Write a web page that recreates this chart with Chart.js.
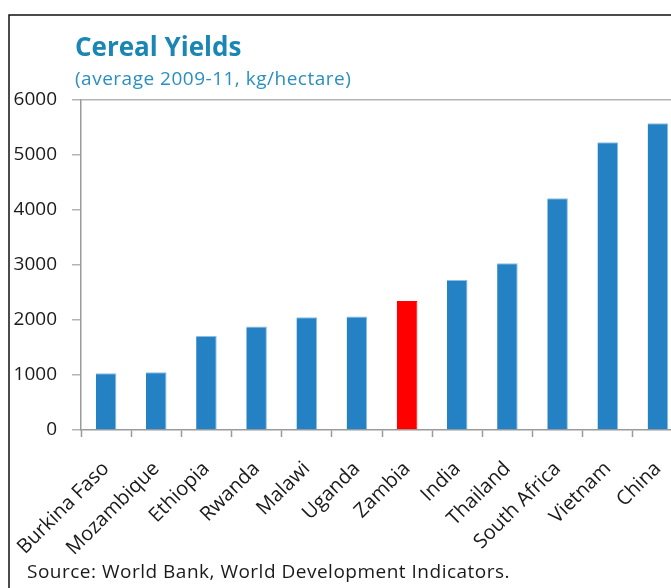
<!DOCTYPE html>
<html>
<head>
<meta charset="utf-8">
<script src="https://cdn.jsdelivr.net/npm/chart.js@4/dist/chart.umd.min.js"></script>
<style>
  html, body { margin: 0; padding: 0; background: #fff; }
  #wrap { position: relative; width: 671px; height: 588px; overflow: hidden; }
  #c { position: absolute; left: 0; top: 0; }
</style>
</head>
<body>
<div id="wrap"><canvas id="c" width="700" height="588"></canvas></div>
<script>
// Cereal yields, average 2009-11, kg per hectare
const countries = ['Burkina Faso', 'Mozambique', 'Ethiopia', 'Rwanda', 'Malawi', 'Uganda',
                   'Zambia', 'India', 'Thailand', 'South Africa', 'Vietnam', 'China'];
const yields = [1030, 1050, 1710, 1880, 2050, 2065, 2345, 2727, 3030, 4212, 5231, 5576];
const highlighted = 'Zambia';
const yTicks = [0, 1000, 2000, 3000, 4000, 5000, 6000];

const titleText = 'Cereal Yields';
const subtitleText = '(average 2009-11, kg/hectare)';
const sourceText = 'Source: World Bank, World Development Indicators.';

const FONT = "'Open Sans', 'Noto Sans', sans-serif";
const BLUE = '#2381c4';
const RED = '#ff0000';

// Frame, heading and source note drawn straight onto the canvas
const decorations = {
  id: 'decorations',
  beforeDraw(chart) {
    const ctx = chart.ctx;
    ctx.save();
    ctx.strokeStyle = '#111';
    ctx.lineWidth = 1.5;
    ctx.beginPath();
    ctx.moveTo(9, 600);
    ctx.lineTo(9, 15);
    ctx.lineTo(720, 15);
    ctx.stroke();
    ctx.restore();
  },
  afterDraw(chart) {
    const ctx = chart.ctx;
    ctx.save();
    ctx.textBaseline = 'alphabetic';
    ctx.textAlign = 'left';
    ctx.fillStyle = '#1a86b3';
    ctx.font = "bold 26px " + FONT;
    ctx.fillText(titleText, 75, 56);
    ctx.fillStyle = '#2a8fc0';
    ctx.font = "19px " + FONT;
    ctx.letterSpacing = '0.5px';
    ctx.fillText(subtitleText, 75, 85);
    ctx.fillStyle = '#1a1a1a';
    ctx.font = "19px " + FONT;
    ctx.fillText(sourceText, 27, 578);
    ctx.restore();
  }
};

new Chart(document.getElementById('c'), {
  type: 'bar',
  data: {
    labels: countries,
    datasets: [{
      data: yields,
      backgroundColor: countries.map(c => c === highlighted ? RED : BLUE),
      borderColor: countries.map(c => c === highlighted ? RED : '#8dbde3'),
      borderWidth: { top: 1, right: 1, left: 0, bottom: 0 },
      barPercentage: 1,
      categoryPercentage: 0.41
    }]
  },
  options: {
    responsive: false,
    animation: false,
    events: [],
    layout: { padding: { top: 100, left: 0, right: 17, bottom: 0 } },
    plugins: { legend: { display: false }, tooltip: { enabled: false } },
    scales: {
      x: {
        afterFit(scale) {
          scale.height = 158;
          scale.paddingLeft = 0;
          scale.paddingRight = 0;
        },
        grid: {
          offset: true,
          drawOnChartArea: false,
          tickLength: 7,
          tickColor: '#9a9a9a',
          tickWidth: 1.5
        },
        border: { color: '#9a9a9a', width: 1.5 },
        ticks: {
          autoSkip: false,
          maxRotation: 45,
          minRotation: 45,
          padding: 20,
          color: '#1a1a1a',
          font: { family: FONT, size: 20 }
        }
      },
      y: {
        min: 0,
        max: 6000,
        afterFit(scale) { scale.width = 81; },
        afterBuildTicks(scale) { scale.ticks = yTicks.map(v => ({ value: v })); },
        grid: {
          color: ctx => (ctx.tick && ctx.tick.value === 6000) ? '#b4b4b4' : 'rgba(0,0,0,0)',
          lineWidth: 1.5,
          tickLength: 9,
          tickColor: '#b4b4b4',
          tickWidth: 1.5
        },
        border: { color: '#9a9a9a', width: 1.5 },
        ticks: {
          padding: 15,
          color: '#1a1a1a',
          font: { family: FONT, size: 19 },
          callback: v => String(v)
        }
      }
    }
  },
  plugins: [decorations]
});
</script>
</body>
</html>
